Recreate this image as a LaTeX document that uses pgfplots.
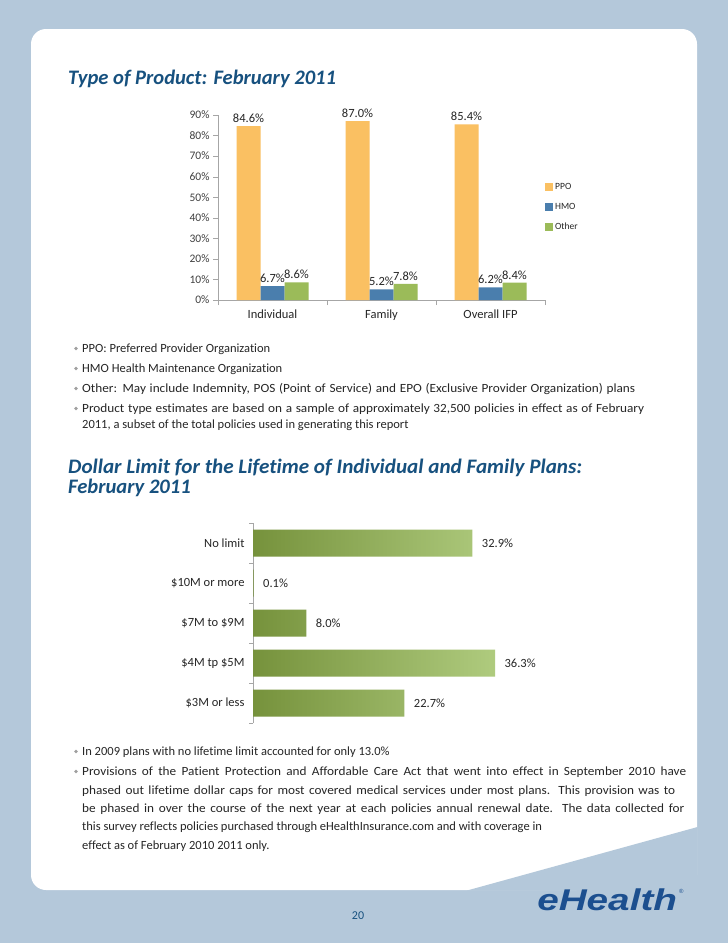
\documentclass[border=0pt]{standalone}
\usepackage{pgfplots}
\pgfplotsset{compat=1.18}
\usepackage{fontspec}
\setmainfont{Carlito}[Ligatures={NoCommon}]
\newfontfamily\widefont{Carlito}[FakeStretch=1.06, Ligatures={NoCommon}]
\newfontfamily\logofont{Liberation Sans}
\definecolor{bgblue}{HTML}{B4C8DA}
\definecolor{titleblue}{HTML}{17517F}
\definecolor{ppo}{HTML}{FAC062}
\definecolor{hmo}{HTML}{4A7EAD}
\definecolor{oth}{HTML}{9BBB59}
\definecolor{gdark}{HTML}{76923C}
\definecolor{glight}{HTML}{AFCB7E}
\definecolor{txt}{HTML}{262626}
\definecolor{ticktxt}{HTML}{404040}
\definecolor{axgray}{HTML}{A6A6A6}
\definecolor{bulgray}{HTML}{A0A0A0}
\definecolor{logoblue}{HTML}{1C4F8F}
\newcommand{\btxt}{\fontsize{12.5}{15}\selectfont}
\newcommand{\bul}[2]{%
  \fill[bulgray] (76,{#1-3.5}) circle (1.8);
  \node[anchor=base west,inner sep=0,font=\btxt,text=txt] at (82,#1) {#2};}
\newcommand{\cont}[2]{%
  \node[anchor=base west,inner sep=0,font=\btxt,text=txt] at (82,#1) {#2};}
\newcommand{\linew}[2]{\resizebox{#1pt}{\height}{#2}}
\newcommand{\jline}[2]{{\widefont\fontsize{12.5}{15}\selectfont\makebox[#1pt][s]{#2}}}
\begin{document}
\begin{tikzpicture}[x=1pt,y=-1pt]
\fill[bgblue] (0,0) rectangle (728,943);
\fill[white, rounded corners=15pt] (31,29) rectangle (697,890);
\fill[bgblue] (467,890.5) -- (697.5,827) -- (697.5,891) -- cycle;

% Titles
\node[anchor=base west,inner sep=0,font=\fontsize{20.6}{24}\selectfont\bfseries\itshape,text=titleblue] at (68,84) {Type of Product: February 2011};
\node[anchor=base west,inner sep=0,font=\fontsize{20.6}{24}\selectfont\bfseries\itshape,text=titleblue] at (68,473) {\linew{514}{Dollar Limit for the Lifetime of Individual and Family Plans:}};
\node[anchor=base west,inner sep=0,font=\fontsize{20.6}{24}\selectfont\bfseries\itshape,text=titleblue] at (68,493) {February 2011};

% Chart 1
\begin{axis}[
  at={(218pt,-300pt)}, anchor=south west,
  scale only axis, width=327pt, height=185pt,
  ymin=0, ymax=90, xmin=-0.5, xmax=2.5,
  ybar=0pt, bar width=24pt,
  axis x line*=bottom, axis y line*=left,
  axis line style={draw=axgray,-},
  /pgf/number format/assume math mode=true,
  ytick={0,10,...,90},
  yticklabel={\pgfmathprintnumber{\tick}\%},
  yticklabel style={font=\fontsize{11.5}{13}\selectfont, text=ticktxt},
  xtick={0,1,2},
  xticklabels={Individual,Family,Overall IFP},
  xticklabel style={font=\fontsize{12.5}{14}\selectfont, text=txt, yshift=-1pt},
  minor xtick={-0.5,0.5,1.5,2.5},
  tick align=outside,
  major tick length=5pt, minor tick length=5pt,
  tick style={draw=axgray},
  major x tick style={draw=none},
  nodes near coords={\pgfmathprintnumber[fixed,fixed zerofill,precision=1]{\pgfplotspointmeta}\%},
  every node near coord/.append style={font=\fontsize{12.5}{14}\selectfont, text=txt},
  legend style={at={(1.0,0.645)}, anchor=north west, draw=none, fill=none,
    font=\fontsize{9.5}{11}\selectfont, text=txt, row sep=8.5pt, inner sep=0pt,
    cells={anchor=west}},
  legend image code/.code={\fill[#1] (0pt,-4pt) rectangle (8pt,4pt);},
  clip=false,
]
\addplot[fill=ppo, draw=none] coordinates {(0,84.6) (1,87.0) (2,85.4)};
\addplot[fill=hmo, draw=none] coordinates {(0,6.7) (1,5.2) (2,6.2)};
\addplot[fill=oth, draw=none] coordinates {(0,8.6) (1,7.8) (2,8.4)};
\legend{PPO,HMO,Other}
\end{axis}

% Bullets 1
\bul{352}{PPO: Preferred Provider Organization}
\bul{372}{HMO Health Maintenance Organization}
\bul{392}{\jline{553}{Other: May include Indemnity, POS (Point of Service) and EPO (Exclusive Provider Organization) plans}}
\bul{412}{\jline{562}{Product type estimates are based on a sample of approximately 32,500 policies in effect as of February}}
\cont{428}{2011, a subset of the total policies used in generating this report}

% Chart 2
\begin{axis}[
  at={(253pt,-723pt)}, anchor=south west,
  scale only axis, width=266.8pt, height=200pt,
  xmin=0, xmax=40, ymin=-0.5, ymax=4.5,
  xbar, bar width=27pt,
  axis x line=none, axis y line*=left,
  axis line style={draw=axgray,-},
  /pgf/number format/assume math mode=true,
  ytick={0,1,2,3,4},
  yticklabels={\$3M or less,\$4M tp \$5M,\$7M to \$9M,\$10M or more,No limit},
  yticklabel style={font=\fontsize{12.5}{14}\selectfont, text=txt},
  minor ytick={-0.5,0.5,1.5,2.5,3.5,4.5},
  tick align=outside,
  major tick length=5pt, minor tick length=4pt,
  tick style={draw=axgray},
  major y tick style={draw=none},
  point meta=x,
  nodes near coords={\pgfmathprintnumber[fixed,fixed zerofill,precision=1]{\pgfplotspointmeta}\%},
  every node near coord/.append style={font=\fontsize{12.5}{14}\selectfont, text=txt, xshift=6pt},
  clip=false,
]
\addplot[draw=none, left color=gdark, right color=glight] coordinates {(22.7,0) (36.3,1) (8.0,2) (0.1,3) (32.9,4)};
\end{axis}

% Bullets 2
\bul{755}{In 2009 plans with no lifetime limit accounted for only 13.0\%}
\bul{775}{\jline{604}{Provisions of the Patient Protection and Affordable Care Act that went into effect in September 2010 have}}
\cont{794}{\jline{593}{phased out lifetime dollar caps for most covered medical services under most plans. This provision was to}}
\cont{812}{\jline{602}{be phased in over the course of the next year at each policies annual renewal date. The data collected for}}
\cont{830}{this survey reflects policies purchased through eHealthInsurance.com and with coverage in}
\cont{849}{effect as of February 2010 2011 only.}

% Footer
\node[anchor=base,inner sep=0,font=\fontsize{12}{14}\selectfont,text=titleblue] at (358,919) {20};
\node[anchor=base west,inner sep=0,font=\logofont\fontsize{30}{32}\selectfont\bfseries\itshape,text=logoblue,xscale=1.29] at (537,910) {eHealth};
\node[anchor=base west,inner sep=0,font=\logofont\fontsize{6}{7}\selectfont,text=logoblue] at (679,893) {®};
\end{tikzpicture}
\end{document}
